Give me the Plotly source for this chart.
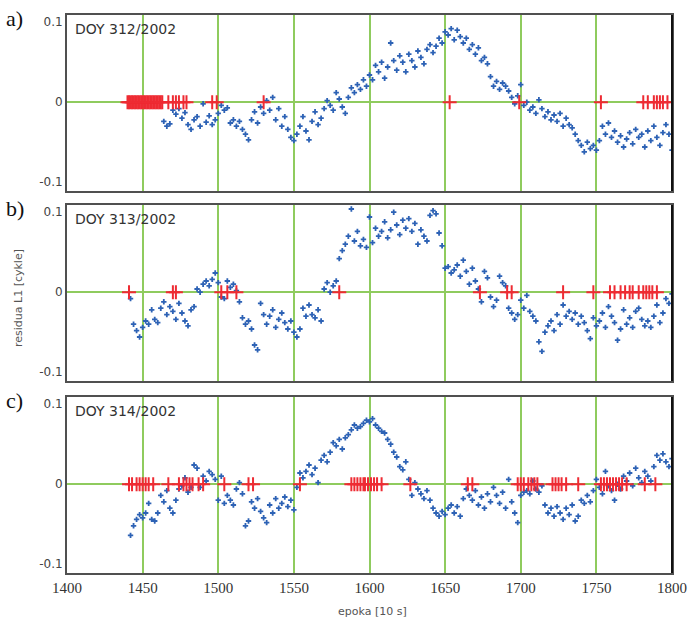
import plotly.graph_objects as go

# ---------------- data ----------------
EPOCH_STEP = 2  # residuals read every 2nd epoch

# residuals in milli-cycles, panel a (DOY 312/2002), from epoch 1464
a_start = 1464
a_res_mcyc = [
    -24, -30, -27, -10, -15, -8, -20, -13, -28, -34,
    -22, -18, -30, -2, -25, -17, -28, -22, -14, -4,
    -10, -7, -26, -22, -30, -24, -34, -40, -47, -22,
    -12, -26, -6, -14, 2, -10, 6, -22, -8, -30,
    -18, -34, -44, -48, -40, -30, -18, -36, -47, -24,
    -12, -28, -20, -8, 2, -4, -10, 12, 4, -6,
    -14, 6, 18, 12, 22, 16, 28, 20, 34, 28,
    46, 38, 50, 30, 44, 74, 52, 40, 58, 50,
    38, 60, 52, 44, 64, 56, 48, 66, 72, 62,
    70, 80, 74, 88, 84, 92, 78, 90, 82, 74,
    80, 66, 72, 60, 68, 52, 56, 48, 32, 20,
    26, 16, 24, 20, 14, 6, -2, 8, 22, -4,
    0, -10, -6, -14, 3, -8, -18, -12, -22, -16,
    -24, -14, -30, -20, -28, -32, -40, -48, -54, -62,
    -50, -58, -54, -60, -48, -30, -40, -26, -44, -36,
    -50, -42, -56, -46, -38, -52, -34, -44, -40, -56,
    -36, -48, -30, -44, -54, -38, -28, -40, -60,
]
a_slips = [1440, 1441, 1442, 1443, 1444, 1445, 1446, 1447, 1448, 1449, 1450, 1451,
           1452, 1453, 1454, 1455, 1456, 1457, 1458, 1459, 1460, 1461, 1462, 1463,
           1467, 1470, 1472, 1474, 1477, 1479, 1496, 1499, 1530, 1653, 1699, 1753,
           1781, 1784, 1788, 1790, 1792, 1794, 1797]

# panel b (DOY 313/2002), from epoch 1442
b_start = 1442
b_res_mcyc = [
    -8, -40, -48, -56, -44, -36, -40, -22, -34, -38,
    -20, -12, -28, -18, -24, -34, -14, -26, -36, -42,
    -22, -18, 4, 0, 10, 14, 8, 16, 24, 12,
    -6, -8, 14, 6, 10, 2, -12, -32, -40, -36,
    -46, -66, -72, -14, -28, -40, -30, -22, -44, -34,
    -26, -38, -46, -36, -50, -56, -46, -20, -30, -16,
    -28, -32, -22, -36, 4, 12, 0, 8, 14, 42,
    52, 60, 70, 104, 64, 76, 58, 66, 56, 94,
    62, 80, 70, 76, 88, 68, 78, 100, 84, 72,
    90, 80, 92, 76, 86, 60, 78, 70, 64, 96,
    102, 98, 74, 58, 30, 32, 24, 28, 34, 20,
    40, 26, 10, 30, 14, 4, -12, 26, 18, -6,
    -18, -10, 20, 12, 8, -20, -26, -34, -28, -10,
    -20, -4, -24, -30, -36, -62, -74, -50, -42, -36,
    -48, -28, -40, -16, -30, -24, -34, -26, -40, -30,
    -38, -48, -58, -32, -42, -36, -26, -44, -18, -30,
    -38, -60, -46, -22, -40, -32, -44, -24, -20, -34,
    -42, -36, -44, -30, -16, -38, -26, -8, -14, -2,
]
b_slips = [1441, 1470, 1472, 1502, 1506, 1512, 1580, 1673, 1691, 1694, 1728, 1748,
           1759, 1762, 1766, 1769, 1772, 1774, 1778, 1781, 1783, 1785, 1787, 1790]

# panel c (DOY 314/2002), from epoch 1442
c_start = 1442
c_res_mcyc = [
    -64, -52, -44, -38, -42, -36, -24, -44, -46, -36,
    -14, -22, -8, -30, -36, -20, -6, -2, 8, -10,
    -4, 24, 20, -4, 10, 4, 16, 12, 6, -20,
    10, -24, -14, -20, -26, -6, 2, -12, -52, -46,
    -22, -30, -18, -34, -42, -48, -26, -36, -18, -30,
    -24, -16, -28, -20, -32, -4, 14, 8, 16, 24,
    12, 20, 2, 30, 36, 28, 40, 52, 48, 56,
    44, 58, 62, 68, 74, 70, 72, 76, 80, 78,
    82, 74, 70, 66, 64, 56, 50, 40, 34, 22,
    18, 28, 6, -14, 2, -6, -12, -18, -8, -20,
    -30, -36, -40, -34, -38, -30, -26, -36, -28, -40,
    -18, -6, -14, -20, -8, -26, -16, -30, -12, -22,
    -4, -14, -24, -10, -30, 6, -22, -36, -48, -14,
    -10, -8, -12, 4, -6, -10, -2, -26, -36, -30,
    -40, -28, -36, -44, -30, -38, -26, -46, -40, -20,
    -24, -14, -22, -8, 6, -4, -12, 16, -2, -8,
    -20, 0, -6, 10, 4, 14, -2, 20, 8, 2,
    16, 10, 4, 22, 36, 30, 38, 28, 22, 32,
]
c_slips = [1441, 1443, 1446, 1448, 1450, 1452, 1454, 1457, 1467, 1474, 1477, 1479,
           1481, 1483, 1487, 1490, 1504, 1520, 1523, 1554, 1588, 1590, 1592, 1594,
           1596, 1597, 1599, 1601, 1603, 1605, 1608, 1627, 1665, 1668, 1698, 1700,
           1702, 1705, 1707, 1709, 1711, 1721, 1723, 1725, 1727, 1730, 1738, 1753,
           1755, 1757, 1759, 1761, 1763, 1765, 1767, 1770, 1782, 1789]

panel_labels = ["a)", "b)", "c)"]
doy_labels = ["DOY 312/2002", "DOY 313/2002", "DOY 314/2002"]
x_ticks = [1400, 1450, 1500, 1550, 1600, 1650, 1700, 1750, 1800]
y_ticks = [-0.1, 0, 0.1]
y_ticktext = ["-0.1", "0", "0.1"]
x_title = "epoka [10 s]"
y_title = "residua L1 [cykle]"

# ---------------- styling ----------------
W, H = 692, 625
BLUE = "#2d62b5"
RED = "#ee2b33"
GREEN = "#8fcb5e"
FRAME = "#505050"
X0, X1 = 67, 672
panel_px = [(15, 191), (205, 381), (397, 573)]  # top, bottom in px
YR = [-0.111, 0.109]

panels = [
    (a_start, a_res_mcyc, a_slips),
    (b_start, b_res_mcyc, b_slips),
    (c_start, c_res_mcyc, c_slips),
]

fig = go.Figure()
layout = dict(
    width=W, height=H, autosize=False,
    margin=dict(l=0, r=0, t=0, b=0),
    paper_bgcolor="white", plot_bgcolor="white",
    showlegend=False,
    annotations=[], shapes=[],
)

for i, (start, res, slips) in enumerate(panels):
    n = "" if i == 0 else str(i + 1)
    xa, ya = "x" + n, "y" + n
    xs = [start + EPOCH_STEP * k for k in range(len(res))]
    ys = [v / 1000.0 for v in res]
    fig.add_trace(go.Scatter(
        x=xs, y=ys, mode="markers", xaxis=xa, yaxis=ya,
        marker=dict(symbol="cross", size=4.5, color=BLUE, line=dict(width=0)),
        hoverinfo="skip"))
    fig.add_trace(go.Scatter(
        x=slips, y=[0] * len(slips), mode="markers", xaxis=xa, yaxis=ya,
        marker=dict(symbol="cross-thin", size=10, color=RED,
                    line=dict(color=RED, width=2)),
        hoverinfo="skip"))

    top, bot = panel_px[i]
    layout["xaxis" + n] = dict(
        domain=[X0 / W, X1 / W], range=[1400, 1800], anchor=ya,
        tickvals=x_ticks, showticklabels=(i == 2),
        showgrid=True, gridcolor=GREEN, gridwidth=2,
        zeroline=False, showline=True, mirror=True,
        linecolor=FRAME, linewidth=2, ticks="",
        tickfont=dict(family="Liberation Serif", size=15, color="#333333"),
        automargin=False, fixedrange=True,
        **({} if i == 2 else {"matches": "x3"}),
    )
    layout["yaxis" + n] = dict(
        domain=[1 - bot / H, 1 - top / H], range=YR, anchor=xa,
        tickvals=y_ticks, ticktext=y_ticktext,
        showgrid=False, zeroline=True, zerolinecolor=GREEN, zerolinewidth=2,
        showline=True, mirror=True, linecolor=FRAME, linewidth=2, ticks="",
        tickfont=dict(family="DejaVu Sans", size=12, color="#444444"),
        automargin=False, fixedrange=True,
    )
    # panel letter
    layout["annotations"].append(dict(
        text=panel_labels[i], xref="paper", yref="paper",
        x=4 / W, y=1 - (top + 3) / H, xanchor="left", yanchor="middle",
        showarrow=False, font=dict(family="Liberation Serif", size=22, color="#111111")))
    # DOY label
    layout["annotations"].append(dict(
        text=doy_labels[i], xref="paper", yref="paper",
        x=73 / W, y=1 - (top + 14) / H, xanchor="left", yanchor="middle",
        showarrow=False, font=dict(family="DejaVu Sans", size=14, color="#333333")))
    # darker right edge
    layout["shapes"].append(dict(
        type="line", xref="paper", yref="paper",
        x0=X1 / W, x1=X1 / W, y0=1 - bot / H, y1=1 - top / H,
        line=dict(color="#111111", width=2)))

layout["annotations"].append(dict(
    text=x_title, xref="paper", yref="paper", x=372 / W, y=1 - 611 / H,
    xanchor="center", yanchor="middle", showarrow=False,
    font=dict(family="DejaVu Sans", size=11, color="#555555")))
layout["annotations"].append(dict(
    text=y_title, xref="paper", yref="paper", x=18 / W, y=1 - 298 / H,
    xanchor="center", yanchor="middle", textangle=-90, showarrow=False,
    font=dict(family="DejaVu Sans", size=11, color="#555555")))

fig.update_layout(**layout)
fig.write_html("out.html")
